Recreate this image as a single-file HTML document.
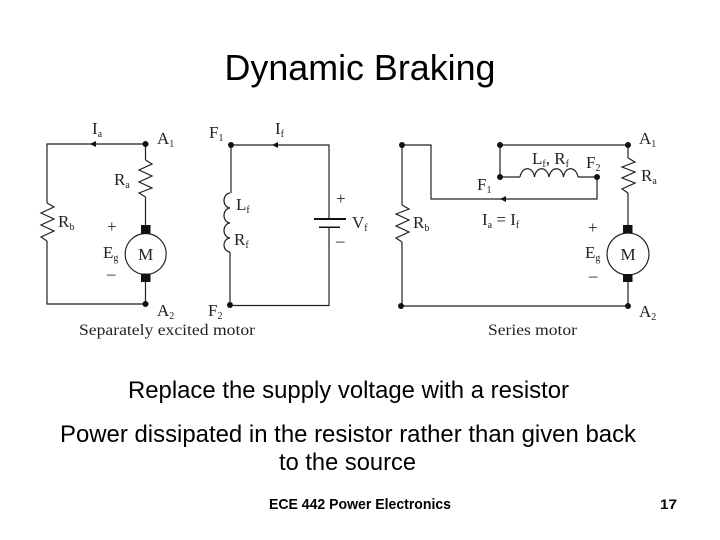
<!DOCTYPE html>
<html><head><meta charset="utf-8"><style>
html,body{margin:0;padding:0;background:#fff}
svg{display:block}
.s{font-family:"Liberation Serif",serif;fill:#222}
.a{font-family:"Liberation Sans",sans-serif;fill:#000}
.w{fill:none;stroke:#222;stroke-width:1.2}
.sub{font-size:10px}
</style></head><body>
<svg width="720" height="540" viewBox="0 0 720 540" xmlns="http://www.w3.org/2000/svg">
<text class="a" x="360" y="80" font-size="36" text-anchor="middle" textLength="271" lengthAdjust="spacingAndGlyphs">Dynamic Braking</text>

<!-- Left armature circuit -->
<path class="w" d="M145.5 144H47V203M47 241V304H145.5M145.5 144V160M145.5 197V226M145.5 280V304"/>
<path class="w" d="M145.5 160L152 164L139 170L152 176L139 182L152 188L139 193L145.5 197"/>
<path class="w" d="M47 203L54 207L41 213L54 219L41 225L54 231L41 237L47 241"/>
<circle class="w" cx="145.7" cy="254" r="20.5"/>
<rect x="141" y="225" width="9.5" height="8.5" fill="#111"/>
<rect x="141" y="273.5" width="9.5" height="8.5" fill="#111"/>
<circle cx="145.5" cy="144" r="3" fill="#111"/><circle cx="145.5" cy="304" r="3" fill="#111"/>
<path d="M90 144L96 141V147Z" fill="#111"/>
<text class="s" x="92" y="134" font-size="17">I<tspan class="sub" dy="3">a</tspan></text>
<text class="s" x="157" y="144" font-size="17">A<tspan class="sub" dy="3">1</tspan></text>
<text class="s" x="114" y="185" font-size="17">R<tspan class="sub" dy="3">a</tspan></text>
<text class="s" x="58" y="227" font-size="17">R<tspan class="sub" dy="3">b</tspan></text>
<text class="s" x="107" y="232" font-size="17">+</text>
<text class="s" x="103" y="258" font-size="17">E<tspan class="sub" dy="3">g</tspan></text>
<text class="s" x="107" y="279" font-size="17">–</text>
<text class="s" x="145.7" y="260" font-size="17" text-anchor="middle">M</text>
<text class="s" x="157" y="316" font-size="17">A<tspan class="sub" dy="3">2</tspan></text>
<text class="s" x="79" y="335" font-size="16" textLength="176" lengthAdjust="spacingAndGlyphs">Separately excited motor</text>

<!-- Field circuit -->
<path class="w" d="M231 145H329V219M329 227V305.5H230M231 145V193M230 252V305"/>
<path class="w" d="M230 193C222 194 222 207 230 208C222 209 222 222 230 223C222 224 222 237 230 238C222 239 222 251 230 252"/>
<path d="M314 218H346V220H314ZM319 226.5H340V228H319Z" fill="#111"/>
<circle cx="231" cy="145" r="3" fill="#111"/><circle cx="230" cy="305" r="3" fill="#111"/>
<path d="M272 145L278 142V148Z" fill="#111"/>
<text class="s" x="209" y="138" font-size="17">F<tspan class="sub" dy="3">1</tspan></text>
<text class="s" x="275" y="134" font-size="17">I<tspan class="sub" dy="3">f</tspan></text>
<text class="s" x="336" y="204" font-size="17">+</text>
<text class="s" x="352" y="228" font-size="17">V<tspan class="sub" dy="3">f</tspan></text>
<text class="s" x="336" y="246" font-size="17">–</text>
<text class="s" x="236" y="210" font-size="17">L<tspan class="sub" dy="3">f</tspan></text>
<text class="s" x="234" y="245" font-size="17">R<tspan class="sub" dy="3">f</tspan></text>
<text class="s" x="208" y="316" font-size="17">F<tspan class="sub" dy="3">2</tspan></text>

<!-- Series motor -->
<path class="w" d="M402 145H431V199H597V177M402 145V205M402 242V306H628M500 145H628M500 145V177M500 177H520M578 177H597M628 145V158M628 193V226M628 280V306"/>
<path class="w" d="M520 177C522 166 533 166 534.5 177C536 166 547 166 549 177C551 166 562 166 563.5 177C565 166 576 166 578 177"/>
<path class="w" d="M402 205L409 209L396 214L409 220L396 226L409 232L396 238L402 242"/>
<path class="w" d="M628 158L635 162L622 167L635 172L622 178L635 183L622 189L628 193"/>
<circle class="w" cx="628" cy="254" r="21"/>
<rect x="623" y="225" width="9.5" height="8.5" fill="#111"/>
<rect x="623" y="274" width="9.5" height="8" fill="#111"/>
<circle cx="402" cy="145" r="3" fill="#111"/><circle cx="401" cy="306" r="3" fill="#111"/>
<circle cx="500" cy="145" r="3" fill="#111"/><circle cx="500" cy="177" r="3" fill="#111"/>
<circle cx="597" cy="177" r="3" fill="#111"/><circle cx="628" cy="145" r="3" fill="#111"/>
<circle cx="628" cy="306" r="3" fill="#111"/>
<path d="M500 199L506 196V202Z" fill="#111"/>
<text class="s" x="639" y="144" font-size="17">A<tspan class="sub" dy="3">1</tspan></text>
<text class="s" x="641" y="181" font-size="17">R<tspan class="sub" dy="3">a</tspan></text>
<text class="s" x="532" y="164" font-size="17">L<tspan class="sub" dy="3">f</tspan><tspan dy="-3">, R</tspan><tspan class="sub" dy="3">f</tspan></text>
<text class="s" x="586" y="168" font-size="17">F<tspan class="sub" dy="3">2</tspan></text>
<text class="s" x="477" y="190" font-size="17">F<tspan class="sub" dy="3">1</tspan></text>
<text class="s" x="482" y="225" font-size="17">I<tspan class="sub" dy="3">a</tspan><tspan dy="-3"> = I</tspan><tspan class="sub" dy="3">f</tspan></text>
<text class="s" x="413" y="228" font-size="17">R<tspan class="sub" dy="3">b</tspan></text>
<text class="s" x="588" y="233" font-size="17">+</text>
<text class="s" x="585" y="258" font-size="17">E<tspan class="sub" dy="3">g</tspan></text>
<text class="s" x="589" y="281" font-size="17">–</text>
<text class="s" x="628" y="260" font-size="17" text-anchor="middle">M</text>
<text class="s" x="639" y="317" font-size="17">A<tspan class="sub" dy="3">2</tspan></text>
<text class="s" x="488" y="335" font-size="16" textLength="89" lengthAdjust="spacingAndGlyphs">Series motor</text>

<!-- Body text -->
<text class="a" x="128" y="398" font-size="24" textLength="441" lengthAdjust="spacingAndGlyphs">Replace the supply voltage with a resistor</text>
<text class="a" x="60" y="442" font-size="24" textLength="576" lengthAdjust="spacingAndGlyphs">Power dissipated in the resistor rather than given back</text>
<text class="a" x="279" y="470" font-size="24" textLength="137" lengthAdjust="spacingAndGlyphs">to the source</text>
<text class="a" x="269" y="509" font-size="15" font-weight="bold" textLength="182" lengthAdjust="spacingAndGlyphs">ECE 442 Power Electronics</text>
<text class="a" x="660" y="509" font-size="14" font-weight="bold" textLength="17" lengthAdjust="spacingAndGlyphs">17</text>
</svg>
</body></html>
